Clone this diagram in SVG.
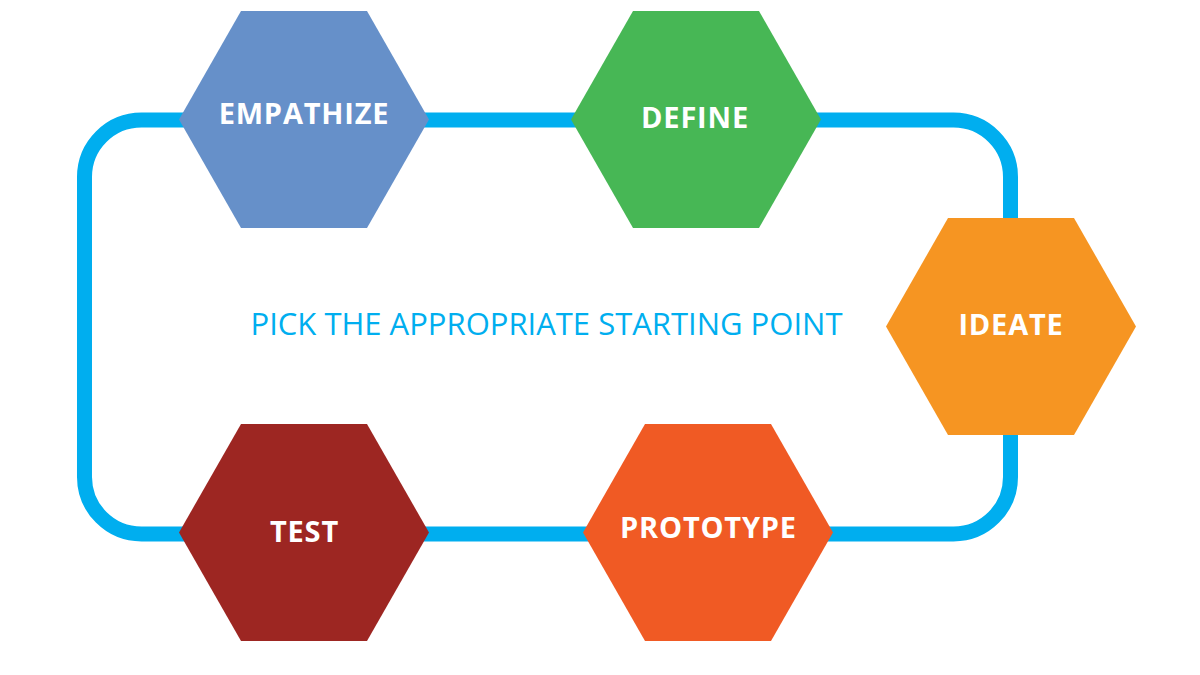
<svg xmlns="http://www.w3.org/2000/svg" width="1200" height="675" viewBox="0 0 1200 675">
<style>
.lbl{font-family:"Open Sans","Liberation Sans",sans-serif;font-weight:700;font-size:29px;fill:#fff;text-anchor:middle;letter-spacing:0.8px}
.mid{font-family:"Open Sans","Liberation Sans",sans-serif;font-weight:400;font-size:31px;fill:#00AEEF;text-anchor:middle}
</style>
<rect width="1200" height="675" fill="#fff"/>
<g id="connectors">
<rect x="84.5" y="120" width="926" height="414" rx="57" ry="57" fill="none" stroke="#00AEEF" stroke-width="15"/>
</g>
<g id="empathize">
<polygon points="179,119.5 241,11 367,11 429,119.5 367,228 241,228" fill="#6690C9"/>
<text class="lbl" x="304" y="124">EMPATHIZE</text>
</g>
<g id="define">
<polygon points="571,119.5 633,11 759,11 821,119.5 759,228 633,228" fill="#47B755"/>
<text class="lbl" x="695" y="128">DEFINE</text>
</g>
<g id="ideate">
<polygon points="886,326.5 948,218 1074,218 1136,326.5 1074,435 948,435" fill="#F69522"/>
<text class="lbl" x="1011" y="335">IDEATE</text>
</g>
<g id="test">
<polygon points="179,532.5 241,424 367,424 429,532.5 367,641 241,641" fill="#9D2622"/>
<text class="lbl" x="304.5" y="542">TEST</text>
</g>
<g id="prototype">
<polygon points="583,532.5 645,424 771,424 833,532.5 771,641 645,641" fill="#F05A24"/>
<text class="lbl" x="708.5" y="538">PROTOTYPE</text>
</g>
<text class="mid" x="546.5" y="335">PICK THE APPROPRIATE STARTING POINT</text>
</svg>
